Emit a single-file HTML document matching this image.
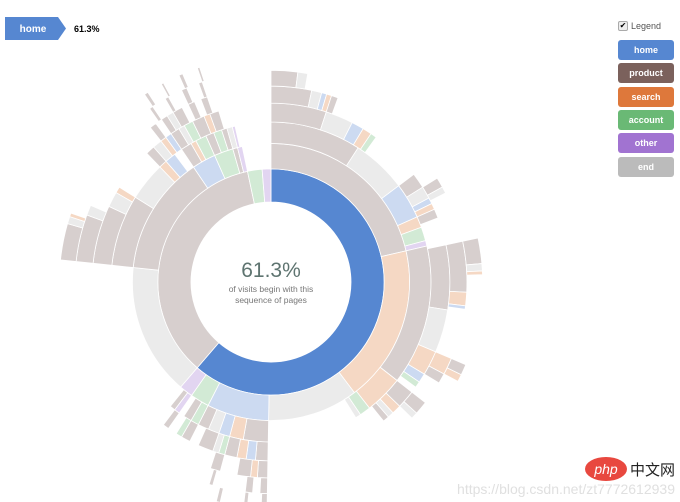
<!DOCTYPE html>
<html><head><meta charset="utf-8">
<style>
body{margin:0;width:680px;height:502px;background:#fff;overflow:hidden;font-family:"Liberation Sans",sans-serif;position:relative}
.lg{position:absolute;left:618px;width:56px;height:20px;border-radius:3px;color:#fff;font-size:9px;font-weight:bold;text-align:center;line-height:20px}
</style></head><body>
<svg width="680" height="502" style="position:absolute;left:0;top:0">
<g id="crumb">
<polygon points="5,17 58,17 66,28.5 58,40 5,40" fill="#5687d1"/>
<text x="33" y="32" fill="#fff" font-size="10" font-weight="bold" text-anchor="middle">home</text>
<text x="74" y="32" fill="#000" font-size="9" font-weight="bold">61.3%</text>
</g>
<g id="arcs"></g>
<text x="271" y="277" fill="#5e7470" font-size="21" text-anchor="middle">61.3%</text>
<text x="271" y="292" fill="#777" font-size="8.5" text-anchor="middle">of visits begin with this</text>
<text x="271" y="303" fill="#777" font-size="8.5" text-anchor="middle">sequence of pages</text>
<ellipse cx="606" cy="469" rx="21" ry="12" fill="#e8483f"/>
<text x="606" y="474" fill="#fff" font-size="14" font-style="italic" text-anchor="middle">php</text>
<text x="630" y="475" fill="#222" font-size="15" font-family="Liberation Sans, Noto Sans CJK SC, sans-serif">中文网</text>
<text x="675" y="494" fill="#e0e0e0" font-size="14" text-anchor="end">https://blog.csdn.net/zt7772612939</text>
</svg>
<div style="position:absolute;left:618px;top:21px;width:8px;height:8px;border:1px solid #aaa;border-radius:2px;background:#eee;font-size:8px;line-height:8px;text-align:center">✔</div>
<div style="position:absolute;left:631px;top:21px;font-size:9px;color:#555">Legend</div>
<div class="lg" style="top:40px;background:#5687d1">home</div>
<div class="lg" style="top:63px;background:#7b615c">product</div>
<div class="lg" style="top:87px;background:#de783b">search</div>
<div class="lg" style="top:110px;background:#6ab975">account</div>
<div class="lg" style="top:133px;background:#a173d1">other</div>
<div class="lg" style="top:157px;background:#bbbbbb">end</div>
<script>
// Each ring: sequence of [startDeg,endDeg) converted to percent of visits; category per segment ("gap" = no node)
const ring1 = [["home",0,220.7],["product",220.7,348],["account",348,355.5],["other",355.5,360]];
const ring2 = [["product",0,77],["search",77,143],["end",143,181],["home",181,207],["account",207,215],["other",215,220.7],["end",220.7,276],["product",276,326],["home",326,336],["account",336,344],["product",344,346],["other",346,348]];
const ring3 = [["product",0,33],["end",33,53],["home",53,66],["search",66,70],["account",70,75],["other",75,77],["product",77,128],["search",128,142],["account",142,146],["end",146,148],["product",181,190],["search",190,195],["home",195,199],["end",199,203],["product",203,207],["account",207,210],["product",210,213],["other",215,217],["product",217,219],["product",276,302],["end",302,316],["search",316,319],["home",319,323],["product",326,330],["search",330,332],["account",332,336],["product",336,339],["account",339,342],["product",342,344],["end",344,346],["other",346,347]];
const ring4 = [["product",0,18],["end",18,27],["home",27,31],["search",31,34],["account",34,36],["product",53,58],["end",58,62],["home",62,64],["search",64,66],["product",66,69],["product",78,99],["end",99,113],["search",113,121],["home",121,124],["account",124,126],["product",128,134],["search",134,137],["end",137,139],["product",139,141],["product",181,185],["home",185,188],["search",188,191],["product",191,195],["account",195,197],["end",197,199],["product",199,204],["product",207,210],["account",210,212],["product",215,217],["product",276,295],["end",295,300],["search",300,302],["product",316,319],["end",319,322],["search",322,324],["home",324,326],["product",326,329],["end",329,331],["account",331,334],["product",334,338],["search",338,340],["product",340,343]];
const ring5 = [["product",0,12],["end",12,15],["home",15,16.5],["search",16.5,18],["product",18,20],["product",58,61],["end",61,63],["product",78,93],["search",93,97],["home",97,98],["search",113,118],["product",118,121],["product",128,132],["end",132,134],["product",181,184],["search",184,186],["product",186,190],["product",195,198],["product",276,290],["end",290,293],["product",322,324],["product",326,328],["end",328,330],["product",330,333],["product",335,337],["product",339,341]];
const ring6 = [["product",0,7.3],["end",7.3,10],["product",78,85],["end",85,87],["search",87,88],["product",113,116],["search",116,118],["product",181,183],["product",185,187],["product",196,197],["product",276,286],["end",286,288],["search",288,289],["product",325,326],["product",330,331],["product",335,336.5],["product",340,341]];
const ring7 = [["product",181,182.5],["product",186,187],["product",193,194],["product",326,327],["product",331,331.6],["product",336,337],["product",341,341.6]];
const rings = [ring1,ring2,ring3,ring4,ring5,ring6,ring7];
const full = {home:"#5687d1"};
const faded = {home:"#ccdaf1",product:"#d7cfce",search:"#f5d8c4",account:"#d2ead5",other:"#e2d5f1",end:"#ebebeb"};
const cx=271, cy=282;
function ang(deg){return deg/360*2*Math.PI;}
function rad(depth){return 80*Math.sqrt(depth+1);}
function pt(r,a){return [cx+r*Math.sin(a), cy-r*Math.cos(a)];}
function arcPath(r0,r1,a0,a1){
  const big=(a1-a0)>Math.PI?1:0;
  const p0=pt(r1,a0),p1=pt(r1,a1),p2=pt(r0,a1),p3=pt(r0,a0);
  return `M${p0[0]},${p0[1]}A${r1},${r1} 0 ${big} 1 ${p1[0]},${p1[1]}L${p2[0]},${p2[1]}A${r0},${r0} 0 ${big} 0 ${p3[0]},${p3[1]}Z`;
}
const g=document.getElementById('arcs');
rings.forEach((ring,d)=>{
  ring.forEach(seg=>{
    const [cat,s,e]=seg;
    const p=document.createElementNS('http://www.w3.org/2000/svg','path');
    p.setAttribute('d',arcPath(rad(d),rad(d+1),ang(s),ang(Math.min(e,359.99))));
    const col=(d===0&&full[cat])?full[cat]:faded[cat];
    p.setAttribute('fill',col);
    p.setAttribute('stroke','#fff');
    p.setAttribute('stroke-width','0.8');
    
    
    g.appendChild(p);
  });
});
</script>
</body></html>
